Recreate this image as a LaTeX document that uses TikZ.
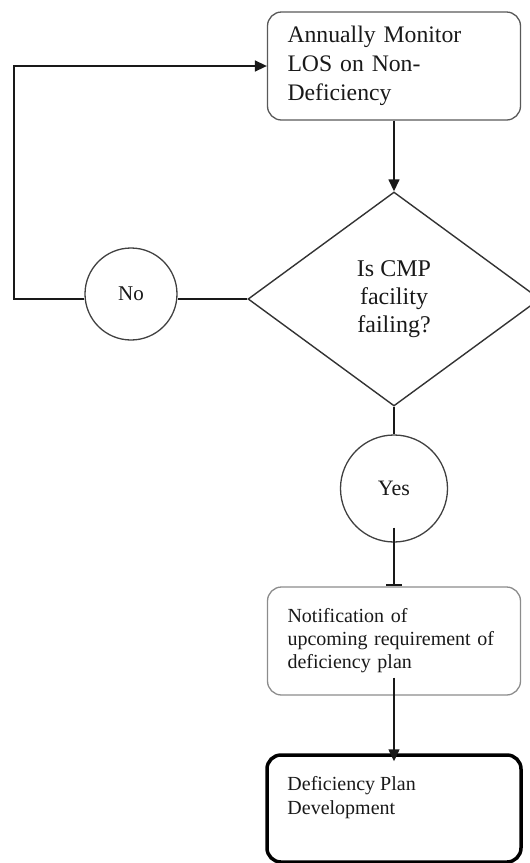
\documentclass[tikz,border=0pt]{standalone}
\usepackage{fontspec}
\setmainfont{Liberation Serif}
\usetikzlibrary{shapes.geometric,arrows.meta}
\begin{document}
\begin{tikzpicture}[x=1pt,y=-1pt,
  conn/.style={draw=black!90, line width=1.5pt},
  tri/.style={-{Triangle[length=12pt,width=11pt]}},
  roundbox/.style={draw, line width=1.3pt, rounded corners=14pt,
    minimum width=253pt, minimum height=108pt, inner xsep=20pt,
    text width=213pt, align=left, text=black!90},
  decision/.style={diamond, draw=black!80, line width=1.4pt, aspect=1.36,
    minimum width=292pt, minimum height=214pt, inner sep=0pt, align=center,
    text=black!90, font={\fontsize{24}{28}\selectfont}},
  circ/.style={circle, draw=black!75, line width=1.3pt, inner sep=0pt,
    text=black!90}
]
\clip (0,0) rectangle (530,863);

\node[roundbox, draw=black!65, font={\fontsize{23.7}{29}\selectfont}] (mon) at (394,66)
  {Annually Monitor\\LOS on Non-\\Deficiency};
\node[decision] (dia) at (394,299) {Is CMP\\facility\\failing?};
\node[circ, minimum size=92pt, font={\fontsize{21}{24}\selectfont}] (no) at (131,294) {No};
\node[circ, minimum size=107pt, font={\fontsize{22}{25}\selectfont}] (yes) at (394,488.5) {Yes};
\node[roundbox, draw=black!45, font={\fontsize{20}{23}\selectfont}] (note) at (394,641)
  {Notification of\\upcoming requirement of\\deficiency plan};
\node[draw=black, line width=3.5pt, rounded corners=14pt,
  minimum width=254pt, minimum height=107pt] (dev) at (394,808.5) {};
\node[anchor=north west, align=left, inner sep=0pt, text=black!90,
  font={\fontsize{20}{24}\selectfont}] (devtext)
  at ([xshift=22pt,yshift=-23pt]dev.north west) {Deficiency Plan\\Development};

\coordinate (loopc) at (14,299);
\draw[conn, tri] (mon.south) -- (dia.north);
\draw[conn] (dia.west) -- (dia.west -| no.east);
\draw[conn, tri] (dia.west -| no.west) -- (loopc) |- (mon.west);
\draw[conn] (dia.south) -- (yes.north);
\draw[conn, -{Bar[width=16pt,line width=2.5pt]}] ([yshift=15pt]yes.south) -- (note.north);
\draw[conn, tri] ([yshift=18pt]note.south) -- ([yshift=-8pt]dev.north);
\end{tikzpicture}
\end{document}
